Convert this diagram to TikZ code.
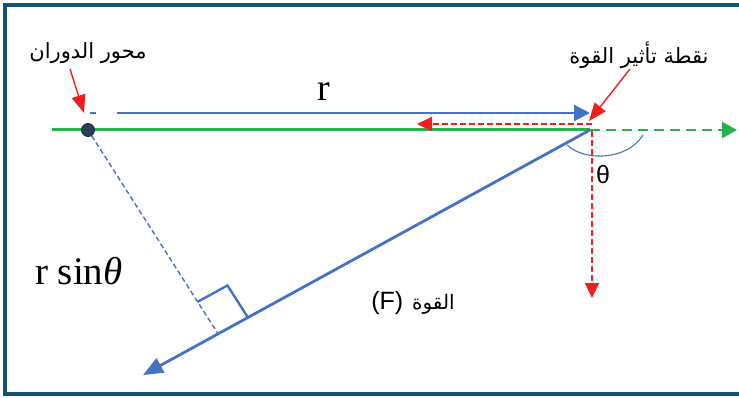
\documentclass[tikz,border=0pt]{standalone}
\usepackage{fontspec}
\setmainfont{Liberation Serif}
\newfontfamily\arabicfont[Script=Arabic]{DejaVu Sans}
\newfontfamily\sansf{Liberation Sans}
\TeXXeTstate=1
\usetikzlibrary{arrows.meta,calc}
\definecolor{framec}{RGB}{20,82,112}
\definecolor{bluec}{RGB}{68,114,196}
\definecolor{greenc}{RGB}{40,178,76}
\definecolor{redc}{RGB}{240,30,30}
\definecolor{pivotc}{RGB}{40,62,96}
\begin{document}
\begin{tikzpicture}[x=1pt,y=-1pt,
  framestyle/.style={draw=framec,line width=4pt},
  greenline/.style={draw=greenc,line width=3pt},
  greendash/.style={draw=greenc,line width=2.6pt,dash pattern=on 10pt off 6pt,-{Triangle[length=15pt,width=16pt]}},
  reddash/.style={draw=redc,line width=2.2pt,dash pattern=on 6pt off 3pt,-{Triangle[length=15pt,width=14pt]}},
  redarrow/.style={draw=redc,line width=1.4pt,-{Triangle[length=18pt,width=14pt]}},
  bluearrow/.style={draw=bluec,line width=2.2pt,-{Triangle[length=16pt,width=16pt]}},
  forcearrow/.style={draw=bluec,line width=2.8pt,-{Triangle[length=20pt,width=16pt]}},
  bluedash/.style={draw=bluec,line width=1.4pt,dash pattern=on 5pt off 3pt},
  rightangle/.style={draw=bluec,line width=2.4pt},
  arclabel/.style={draw=bluec,line width=1.1pt},
  artext/.style={font=\arabicfont\fontsize{21}{24}\selectfont,inner sep=0pt},
]
\useasboundingbox (0,0) rectangle (739,398);
\fill[white] (0,0) rectangle (739,398);
% frame
\draw[framestyle] (744,5) -- (5,5) -- (5,394) -- (744,394);

% key points
\coordinate (P) at (590,130);
\coordinate (T) at (143,375);
\coordinate (gstart) at (52,130);
\coordinate (gend) at (737,130);
\coordinate (rstart) at (117,113);
\coordinate (rend) at (590,113);
\coordinate (d1) at (90,113);
\coordinate (d2) at (96,113);
\coordinate (hs) at (592,124);
\coordinate (he) at (417,124);
\coordinate (vs) at (592,131);
\coordinate (ve) at (592,298);
\coordinate (a1s) at (630,69);
\coordinate (a1e) at (589,121);
\coordinate (a2s) at (70,69);
\coordinate (a2e) at (84,113);
\coordinate (arcs) at (567,145);
\coordinate (arce) at (643,135);

% green line of action
\draw[greenline] (gstart) -- (P);
\draw[greendash] (P) -- (gend);

% pivot
\node[circle,fill=pivotc,draw=pivotc!70!black,line width=0.8pt,minimum size=13pt,inner sep=0pt] (O) at (88,130) {};

% r arrow
\draw[draw=bluec,line width=2pt] (d1) -- (d2);
\draw[bluearrow] (rstart) -- (rend);
\node[font=\fontsize{38}{42}\selectfont,inner sep=0pt,anchor=base] (rlab) at (324,101) {r};

% red components
\draw[reddash] (hs) -- (he);
\draw[reddash] (vs) -- (ve);

% force
\draw[forcearrow] (P) -- (T);

% perpendicular
\coordinate (H) at ($(P)!0.832!(T)$);
\draw[bluedash] (O) -- (H);
\coordinate (q1) at ($(H)!38pt!(O)$);
\coordinate (q3) at ($(H)!34pt!(P)$);
\coordinate (q2) at ($(q1)+(q3)-(H)$);
\draw[rightangle] (q1) -- (q2) -- (q3);

% theta arc
\draw[arclabel] (arcs) .. controls (585,162) and (628,160) .. (arce);
\node[font=\sansf\fontsize{25}{28}\selectfont,inner sep=0pt] (th) at (603,175) {θ};

% labels
\node[artext] (lpiv) at (88,53) {\beginR محور الدوران\endR};
\node[artext] (lpt) at (639,55) {\beginR نقطة تأثير القوة\endR};
\draw[redarrow] (a2s) -- (a2e);
\draw[redarrow] (a1s) -- (a1e);

\node[font=\fontsize{39}{42}\selectfont,inner sep=0pt,anchor=base west] (rsin) at (35,284) {r sin{\itshape θ}};
\node[inner sep=0pt] (flab) at (413,303) {{\sansf\fontsize{25}{28}\selectfont (F)}\hspace{9pt}{\arabicfont\fontsize{20}{24}\selectfont\beginR القوة\endR}};
\end{tikzpicture}
\end{document}
